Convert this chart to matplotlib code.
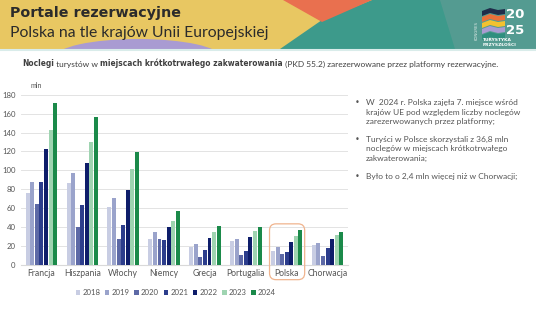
import matplotlib
matplotlib.use("Agg")
import matplotlib.pyplot as plt
from matplotlib.patches import Polygon, Ellipse, FancyBboxPatch, Rectangle
import numpy as np

# data (mln noclegów)
countries = ["Francja", "Hiszpania", "Włochy", "Niemcy", "Grecja", "Portugalia", "Polska", "Chorwacja"]
years = ["2018", "2019", "2020", "2021", "2022", "2023", "2024"]
v2018 = [76, 87, 61, 28, 19, 25, 14.5, 21.5]
v2019 = [88, 97, 71, 35, 22, 28, 18.5, 23.5]
v2020 = [65, 40, 28, 28, 8, 11, 12, 9.5]
v2021 = [88, 63, 42, 26, 16, 15, 13.5, 18]
v2022 = [123, 108, 79, 40, 29, 30, 24.5, 28]
v2023 = [143, 130, 101, 46, 35, 36, 30.5, 32]
v2024 = [171, 156, 119, 57, 41.5, 40.5, 36.8, 34.4]
yticks = list(range(0, 181, 20))

series = [v2018, v2019, v2020, v2021, v2022, v2023, v2024]
colors = ["#c8cde3", "#9aa3cb", "#5d69a6", "#2c3d8c", "#0e1d6a", "#9fd4b1", "#1b8a4a"]

W, H = 536, 310
fig = plt.figure(figsize=(W / 100, H / 100), dpi=100)

# background / header drawn in pixel coords
bg = fig.add_axes([0, 0, 1, 1], zorder=0)
bg.set_xlim(0, W); bg.set_ylim(H, 0); bg.axis("off")
hb = 49
bg.add_patch(Rectangle((0, 0), W, hb, color="#e8c762", lw=0))
bg.add_patch(Ellipse((138, hb + 8), 165, 36, color="#a99bd2", lw=0))
bg.add_patch(Rectangle((0, hb), W, H - hb, color="white", lw=0))
bg.add_patch(Polygon([(280, hb), (322, 20), (372, 0), (W, 0), (W, hb)], color="#3d9a8b", lw=0))
bg.add_patch(Polygon([(283, 0), (372, 0), (322, 22)], color="#e9704f", lw=0))
bg.add_patch(Polygon([(440, 0), (W, 0), (W, hb), (455, hb)], color="#5f9c94", lw=0, alpha=0.7))
bg.plot([0, W], [hb + 0.5, hb + 0.5], color="#d9ecea", lw=1.5)

# logo
for i, c in enumerate(["#1f2d4a", "#e8703a", "#f2c230", "#a99bd2", "#2f8f7f"]):
    y0 = 8 + i * 6
    bg.add_patch(Polygon([(482, y0 + 3), (490, y0), (498, y0 + 2), (505, y0 + 1),
                          (505, y0 + 6), (498, y0 + 7), (490, y0 + 5), (482, y0 + 8)], color=c, lw=0))
bg.text(515, 15, "20", color="white", fontsize=9.5, weight="bold", ha="center", va="center")
bg.text(515, 30, "25", color="white", fontsize=9.5, weight="bold", ha="center", va="center")
bg.text(483, 40, "TURYSTYKA", color="white", fontsize=3.2, weight="bold", va="center")
bg.text(483, 45, "PRZYSZŁOŚCI", color="white", fontsize=3.2, weight="bold", va="center")
bg.text(477, 30, "KONGRES", color="#dfe9e6", fontsize=2.8, rotation=90, ha="center", va="center")

# titles
bg.text(10, 13, "Portale rezerwacyjne", fontsize=10.3, weight="bold", color="#2b2b2b", va="center")
bg.text(10, 33, "Polska na tle krajów Unii Europejskiej", fontsize=11.3, color="#2b2b2b",
        va="center", family="Lato")

# subtitle with mixed weights
parts = [("Noclegi", True), (" turystów w ", False), ("miejscach krótkotrwałego zakwaterowania", True),
         (" (PKD 55.2) zarezerwowane przez platformy rezerwacyjne.", False)]
t = bg.text(22, 63, parts[0][0], fontsize=5.45, weight="bold", color="#404040", va="center")
for s, b in parts[1:]:
    t = bg.annotate(s, xy=(1, 0), xycoords=t, va="bottom", fontsize=5.45 if b else 6.05,
                    weight="bold" if b else "normal", color="#404040",
                    family="DejaVu Sans" if b else "Lato")

# chart
ax = fig.add_axes([21 / W, 45 / H, 327 / W, 172.2 / H], zorder=2)
ax.patch.set_alpha(0)
x = np.arange(len(countries))
slot, bw = 0.112, 0.097
handles = []
for i, (vals, c, yr) in enumerate(zip(series, colors, years)):
    h = ax.bar(x + (i - 3) * slot, vals, width=bw, color=c, label=yr, zorder=3)
    handles.append(h)
ax.set_xlim(-0.5, len(countries) - 0.5)
ax.set_ylim(0, 182)
ax.set_yticks(yticks)
ax.set_xticks(x, countries)
ax.grid(axis="y", color="#e3e3e3", lw=0.7, zorder=0)
for s in ["top", "right", "left"]:
    ax.spines[s].set_visible(False)
ax.spines["bottom"].set_color("#d9d9d9")
ax.tick_params(length=0, labelsize=5.6, colors="#555555", pad=4)
for lab in ax.get_xticklabels() + ax.get_yticklabels():
    lab.set_family("Lato")
ax.tick_params(axis="x", labelsize=6.2, pad=3)
ax.text(-0.27, 186, "mln", fontsize=5, color="#555555", va="bottom", family="Lato")

# highlight box around Polska
ax.add_patch(FancyBboxPatch((6 - 0.42, -15.5), 0.86, 59, boxstyle="round,pad=0,rounding_size=0.16",
                            mutation_aspect=43, fc="none", ec="#f0b48e", lw=0.9, clip_on=False, zorder=4))

fig.legend(handles, years, loc="center", bbox_to_anchor=(176 / W, 1 - 292.7 / H), ncol=7, frameon=False,
           prop={"family": "Lato", "size": 5.6}, labelcolor="#555555", handlelength=0.55, handleheight=0.55,
           handletextpad=0.3, columnspacing=0.6, borderpad=0)

# bullet text
bullets = [
    (102.7, ["W  2024 r. Polska zajęła 7. miejsce wśród", "krajów UE pod względem liczby noclegów",
             "zarezerwowanych przez platformy;"]),
    (139, ["Turyści w Polsce skorzystali z 36,8 mln", "noclegów w miejscach krótkotrwałego",
           "zakwaterowania;"]),
    (176.7, ["Było to o 2,4 mln więcej niż w Chorwacji;"]),
]
for y0, lines in bullets:
    bg.text(357, y0, "•", fontsize=6.0, color="#555555", va="center", ha="center")
    for k, ln in enumerate(lines):
        bg.text(366, y0 + k * 9.6, ln, fontsize=6.0, color="#555555", va="center", family="Lato")

fig.savefig("out.png", dpi=100)
